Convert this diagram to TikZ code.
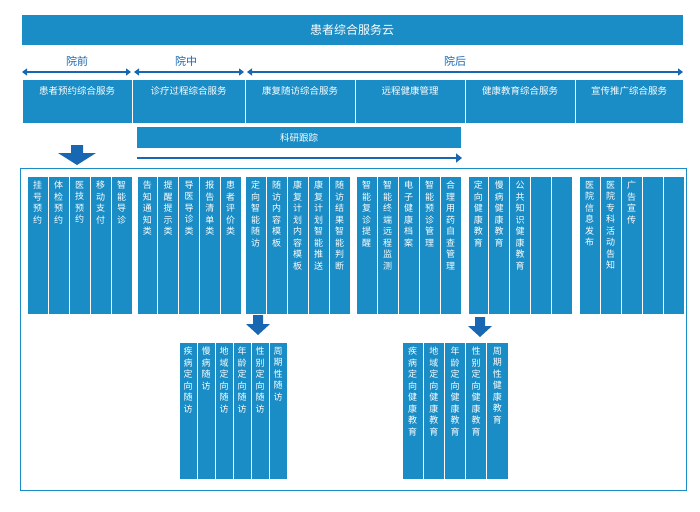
\documentclass[tikz,border=0pt]{standalone}
\usepackage{fontspec}
\setmainfont{Noto Sans CJK SC}
\XeTeXlinebreaklocale "zh"
\usetikzlibrary{arrows.meta}
\definecolor{cell}{HTML}{1A8DC6}
\definecolor{deep}{HTML}{1767B2}
\tikzset{
  cellbox/.style={fill=cell, draw=white, line width=1pt},
  coltext/.style={anchor=north, text=white, font=\fontsize{9}{11.5}\selectfont,
    text width=9pt, align=center, inner sep=0pt},
  phase/.style={deep, line width=2pt, {Triangle[length=5pt,width=7pt]}-{Triangle[length=5pt,width=7pt]}},
  downarrow/.style={fill=deep, draw=none}
}
% column group: x0, x1, y0, y1, list of texts
\newcommand{\colgroup}[5]{%
  \foreach \t [count=\i] in {#5} {\global\let\ncols\i}%
  \foreach \t [count=\i] in {#5} {
    \pgfmathsetmacro{\cw}{(#2-#1)/\ncols}
    \pgfmathsetmacro{\xa}{#1+(\i-1)*\cw}
    \draw[cellbox] (\xa,#3) rectangle ++(\cw,#4-#3);
    \node[coltext] at (\xa+\cw/2,#3+5) {\t};
  }%
}
\newcommand{\darrow}[2]{%
  \fill[downarrow] (#1-5,#2) -- ++(10,0) -- ++(0,9) -- ++(7,0) -- (#1,#2+20) -- (#1-12,#2+9) -- ++(7,0) -- cycle;
}
\begin{document}
\begin{tikzpicture}[x=1pt,y=-1pt]
  \useasboundingbox (0,0) rectangle (700,511);
  % title
  \fill[cell] (22,15) rectangle (683,45);
  \node[text=white, font=\fontsize{12}{14}\selectfont] (title) at (352,30) {患者综合服务云};
  % phases
  \node[deep, font=\fontsize{11}{13}\selectfont] (pre) at (77,61) {院前};
  \node[deep, font=\fontsize{11}{13}\selectfont] (mid) at (186,61) {院中};
  \node[deep, font=\fontsize{11}{13}\selectfont] (post) at (455,61) {院后};
  \draw[phase] (22,72) -- (131,72);
  \draw[phase] (134,72) -- (244,72);
  \draw[phase] (247,72) -- (683,72);
  % categories
  \foreach \xa/\xb/\t in {22/132/患者预约综合服务, 132/245/诊疗过程综合服务, 245/355/康复随访综合服务,
      355/465/远程健康管理, 465/575/健康教育综合服务, 575/683/宣传推广综合服务} {
    \draw[cellbox] (\xa,79) rectangle (\xb,123);
    \node[text=white, font=\fontsize{9.5}{14}\selectfont, text width=\xb-\xa-14pt, align=center,
      anchor=north, inner sep=0pt] at ({(\xa+\xb)/2},86) {\t};
  }
  % research
  \fill[cell] (137,127) rectangle (461,148);
  \node[text=white, font=\fontsize{9.5}{12}\selectfont] (res) at (299,137.5) {科研跟踪};
  \draw[deep, line width=2.5pt, -{Triangle[length=6pt,width=9pt]}] (137,158) -- (462,158);
  \fill[downarrow] (71,145) -- ++(12,0) -- ++(0,8) -- ++(13,0) -- (77,165) -- (58,153) -- ++(13,0) -- cycle;
  % container
  \draw[cell, line width=0.8pt] (20,168) rectangle (686,490);
  \colgroup{27}{132}{176}{314}{挂号预约,体检预约,医技预约,移动支付,智能导诊}
  \colgroup{137}{241}{176}{314}{告知通知类,提醒提示类,导医导诊类,报告清单类,患者评价类}
  \colgroup{245}{350}{176}{314}{定向智能随访,随访内容模板,康复计划内容模板,康复计划智能推送,随访结果智能判断}
  \colgroup{356}{461}{176}{314}{智能复诊提醒,智能终端远程监测,电子健康档案,智能预诊管理,合理用药自查管理}
  \colgroup{468}{572}{176}{314}{定向健康教育,慢病健康教育,公共知识健康教育,{},{}}
  \colgroup{579}{684}{176}{314}{医院信息发布,医院专科活动告知,广告宣传,{},{}}
  \darrow{258}{315}
  \darrow{480}{317}
  \colgroup{179}{287}{342}{479}{疾病定向随访,慢病随访,地域定向随访,年龄定向随访,性别定向随访,周期性随访}
  \colgroup{402}{508}{342}{479}{疾病定向健康教育,地域定向健康教育,年龄定向健康教育,性别定向健康教育,周期性健康教育}
\end{tikzpicture}
\end{document}
